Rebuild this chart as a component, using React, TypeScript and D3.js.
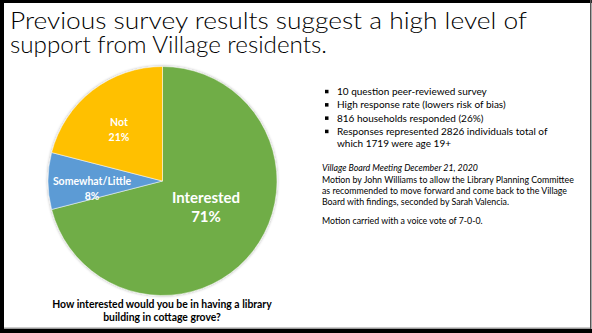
import React from "react";
import * as d3 from "d3";

const categories = ["Interested", "Somewhat/Little", "Not"];
const values = [71, 8, 21];
const colors = ["#70AD47", "#5B9BD5", "#FFC000"];
const titleLines = ["Previous survey results suggest a high level of", "support from Village residents."];
const bullets = [
  "10 question peer-reviewed survey",
  "High response rate (lowers risk of bias)",
  "816 households responded (26%)",
  "Responses represented 2826 individuals total of",
];
const bulletCont = "which 1719 were age 19+";
const meetingTitle = "Village Board Meeting December 21, 2020";
const meetingLines = [
  "Motion by John Williams to allow the Library Planning Committee",
  "as recommended to move forward and come back to the Village",
  "Board with findings, seconded by Sarah Valencia.",
];
const motionLine = "Motion carried with a voice vote of 7-0-0.";
const captionLines = ["How interested would you be in having a library", "building in cottage grove?"];

const W = 592, H = 333;
const font = "Lato, 'Open Sans', sans-serif";

export default function App() {
  const cx = 162.5, cy = 181, r = 114.5;
  const pie = d3.pie<number>().sort(null).startAngle(0).endAngle(2 * Math.PI);
  const arcs = pie(values);
  const arcGen = d3.arc<d3.PieArcDatum<number>>().innerRadius(0).outerRadius(r);
  const labelPos = [
    { x: 206, y: 203, size: 15, gap: 19 },
    { x: 92, y: 185, size: 10.5, gap: 15 },
    { x: 119, y: 126, size: 10.5, gap: 15 },
  ];
  return (
    <svg width={W} height={H} style={{ position: "absolute", left: 0, top: 0, background: "#fff" }} fontFamily={font}>
      <rect x={0} y={0} width={W} height={H} fill="#fff" />
      <rect x={0} y={0} width={W} height={3} fill="#000" />
      <rect x={0} y={0} width={4} height={H} fill="#000" />
      <rect x={0} y={329} width={W} height={4} fill="#000" />
      <rect x={590} y={0} width={1.5} height={329} fill="#555" />
      <rect x={4} y={327.5} width={586} height={1.5} fill="#999" />

      <text x={10} y={29} fontSize={23} fontWeight={300} fill="#000" fontFamily={font}>
        {titleLines.map((t, i) => (
          <tspan key={i} x={10} y={29 + i * 24} textLength={i === 0 ? 517 : 317} lengthAdjust="spacingAndGlyphs">{t}</tspan>
        ))}
      </text>

      <defs>
        <filter id="sh" x="-10%" y="-10%" width="120%" height="120%">
          <feGaussianBlur in="SourceAlpha" stdDeviation="1.5" />
          <feComponentTransfer><feFuncA type="linear" slope="0.35" /></feComponentTransfer>
          <feMerge><feMergeNode /><feMergeNode in="SourceGraphic" /></feMerge>
        </filter>
      </defs>
      <g transform={`translate(${cx},${cy})`} filter="url(#sh)">
        {arcs.map((a, i) => (
          <path key={i} d={arcGen(a) || ""} fill={colors[i]} stroke="#fff" strokeWidth={0.5} />
        ))}
      </g>
      {arcs.map((a, i) => (
        <text key={i} x={labelPos[i].x} y={labelPos[i].y} textAnchor="middle" fill="#fff" fontWeight="bold" fontSize={labelPos[i].size}>
          <tspan x={labelPos[i].x} dy={0}>{categories[i]}</tspan>
          <tspan x={labelPos[i].x} dy={labelPos[i].gap}>{`${values[i]}%`}</tspan>
        </text>
      ))}

      {captionLines.map((t, i) => (
        <text key={i} x={162} y={308 + i * 13} textAnchor="middle" fontSize={10.4} fontWeight="bold" fill="#000">{t}</text>
      ))}

      {bullets.map((t, i) => (
        <g key={i}>
          <rect x={325} y={95 + i * 13.3 - 5.2} width={3.5} height={3.5} fill="#000" />
          <text x={337} y={95 + i * 13.3} fontSize={10} fill="#000">{t}</text>
        </g>
      ))}
      <text x={337} y={95 + 4 * 13.3 - 1} fontSize={10} fill="#000">{bulletCont}</text>

      <text x={322} y={171} fontSize={8.8} fontStyle="italic" fill="#000">{meetingTitle}</text>
      {meetingLines.map((t, i) => (
        <text key={i} x={322} y={183 + i * 11} fontSize={8.8} fill="#000">{t}</text>
      ))}
      <text x={322} y={224} fontSize={8.8} fill="#000">{motionLine}</text>
    </svg>
  );
}
